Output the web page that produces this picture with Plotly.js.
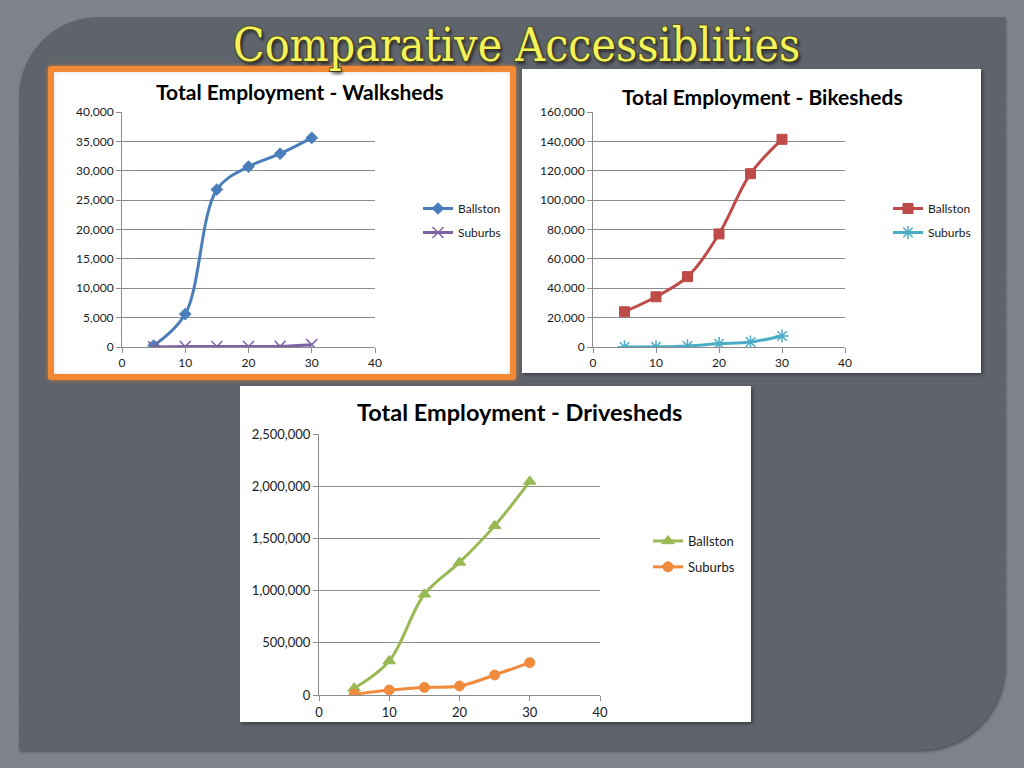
<!DOCTYPE html>
<html>
<head>
<meta charset="utf-8">
<script src="https://cdn.plot.ly/plotly-3.0.1.min.js"></script>
<style>
  html, body { margin:0; padding:0; width:1024px; height:768px; overflow:hidden; background:#7c818b; }
  #slide { position:absolute; left:0; top:0; width:1024px; height:768px;
    background-image: repeating-linear-gradient(45deg, rgba(255,255,255,0.03) 0 1px, rgba(0,0,0,0) 1px 3px); }
  #panel { position:absolute; left:19px; top:17px; width:986px; height:733px; background:#5e636c;
    border-top-left-radius:80px; border-bottom-right-radius:85px; box-shadow: 1px 2px 3px rgba(0,0,0,0.35); }
  .box { position:absolute; background:#ffffff; box-shadow: 2px 2px 3px rgba(0,0,0,0.35); }
  #frame1 { position:absolute; left:48px; top:66px; width:468px; height:314px; background:#f28a35; border-radius:3px;
    box-shadow: 0 0 4px rgba(240,130,40,0.8); }
  #plot { position:absolute; left:0; top:0; width:1024px; height:768px; }
</style>
</head>
<body>
<div id="slide"></div>
<div id="panel"></div>
<div id="frame1"></div>
<div class="box" style="left:54px; top:72px; width:456px; height:302px; box-shadow: inset 0 0 4px rgba(0,0,0,0.15);"></div>
<div class="box" style="left:522px; top:69px; width:459px; height:304px;"></div>
<div class="box" style="left:240px; top:386px; width:511px; height:336px;"></div>
<div id="plot"></div>
<script>
// ---- Data ----
const minutes = [5, 10, 15, 20, 25, 30];

const walkBallston = [230, 5600, 26800, 30700, 32900, 35600];
const walkSuburbs  = [20, 80, 90, 100, 120, 400];

const bikeBallston = [24000, 34200, 47900, 77000, 118000, 141400];
const bikeSuburbs  = [100, 150, 700, 2300, 3400, 7500];

const driveBallston = [64000, 326000, 965000, 1270000, 1620000, 2046000];
const driveSuburbs  = [6000, 48000, 73000, 86000, 192000, 310000];

const seriesNames = ["Ballston", "Suburbs"];
const chartTitles = ["Total Employment - Walksheds", "Total Employment - Bikesheds", "Total Employment - Drivesheds"];
const slideTitle = "Comparative Accessiblities";

// ---- helpers ----
const W = 1024, H = 768;
const px = x => x / W;
const py = y => 1 - y / H;
const FONT = "Lato, 'Open Sans', sans-serif";
const gridCol = "#8c8c8c";

function line(x, y, name, color, symbol, msize, xa, ya, leg, grp, mline) {
  return {
    x: x, y: y, name: name, type: "scatter", mode: "lines+markers",
    xaxis: xa, yaxis: ya, legend: leg, legendgroup: grp,
    line: { color: color, width: 3, shape: "spline", smoothing: 1 },
    marker: { color: color, symbol: symbol, size: msize, line: mline || { color: color, width: 1 } },
    hoverinfo: "skip"
  };
}

const traces = [
  line(minutes, walkBallston, seriesNames[0], "#4a7ebb", "diamond", 9, "x", "y", "legend", "w1"),
  line(minutes, walkSuburbs, seriesNames[1], "#7f62a3", "x-thin-open", 11, "x", "y", "legend", "w2", { color: "#7f62a3", width: 1.5 }),
  line(minutes, bikeBallston, seriesNames[0], "#be4b48", "square", 10, "x2", "y2", "legend2", "b1"),
  line(minutes, bikeSuburbs, seriesNames[1], "#4bacc6", "asterisk-open", 11, "x2", "y2", "legend2", "b2", { color: "#4bacc6", width: 1.5 }),
  line(minutes, driveBallston, seriesNames[0], "#98b954", "triangle-up", 11, "x3", "y3", "legend3", "d1"),
  line(minutes, driveSuburbs, seriesNames[1], "#f08a3c", "circle", 10, "x3", "y3", "legend3", "d2")
];

function xAxis(domain, anchor, fs) {
  return {
    domain: domain, anchor: anchor, range: [0, 40], dtick: 10, tick0: 0,
    showgrid: false, zeroline: false, showline: true, linecolor: gridCol, linewidth: 1,
    ticks: "outside", ticklen: 5, tickcolor: gridCol,
    tickfont: { family: FONT, size: fs, color: "#1a1a1a" }, fixedrange: true
  };
}
function yAxis(domain, anchor, max, step, fs) {
  return {
    domain: domain, anchor: anchor, range: [0, max], dtick: step, tick0: 0,
    showgrid: true, gridcolor: gridCol, gridwidth: 1, zeroline: false,
    showline: true, linecolor: gridCol, linewidth: 1,
    ticks: "outside", ticklen: 5, tickcolor: gridCol, tickformat: ",d",
    tickfont: { family: FONT, size: fs, color: "#1a1a1a" }, fixedrange: true
  };
}
function legendAt(x, y, fs, gap) {
  return {
    x: px(x), y: py(y), xanchor: "left", yanchor: "top",
    bgcolor: "rgba(0,0,0,0)", font: { family: FONT, size: fs, color: "#1a1a1a" },
    itemwidth: 30, traceorder: "grouped", tracegroupgap: gap
  };
}
function titleAnn(text, x, y, size) {
  return { text: "<b>" + text + "</b>", x: px(x), y: py(y), xref: "paper", yref: "paper",
    showarrow: false, xanchor: "center", yanchor: "middle",
    font: { family: FONT, size: size, color: "#000000" } };
}

const layout = {
  width: W, height: H, margin: { l: 0, r: 0, t: 0, b: 0 },
  paper_bgcolor: "rgba(0,0,0,0)", plot_bgcolor: "rgba(0,0,0,0)",
  showlegend: true,
  xaxis: xAxis([px(122), px(375)], "y", 12),
  yaxis: yAxis([py(347), py(112)], "x", 40000, 5000, 12),
  xaxis2: xAxis([px(593), px(845)], "y2", 12),
  yaxis2: yAxis([py(347), py(112)], "x2", 160000, 20000, 12),
  xaxis3: xAxis([px(319), px(600)], "y3", 13),
  yaxis3: yAxis([py(695), py(434)], "x3", 2500000, 500000, 13),
  legend: legendAt(418, 194, 12, 5),
  legend2: legendAt(888, 194, 12, 5),
  legend3: legendAt(648, 526, 13, 6),
  annotations: [
    { text: slideTitle, x: px(516), y: py(45), xref: "paper", yref: "paper", showarrow: false,
      xanchor: "center", yanchor: "middle",
      font: { family: "'DejaVu Serif Condensed', 'DejaVu Serif', serif", size: 46, color: "#f4f35a",
              shadow: "1px 1px 0 #3a3a20, -1px -1px 0 #5a5a30, 1px -1px 0 #4a4a28, -1px 1px 0 #4a4a28, 2px 3px 3px rgba(0,0,0,0.6)" } },
    titleAnn(chartTitles[0], 300, 92, 21),
    titleAnn(chartTitles[1], 762, 96, 21),
    titleAnn(chartTitles[2], 519, 412, 23.5)
  ],
  shapes: [
    { type: "rect", xref: "paper", yref: "paper", x0: px(332), x1: px(340), y0: py(70), y1: py(63),
      fillcolor: "#f5e66a", line: { color: "#b8a840", width: 1 } }
  ]
};

Plotly.newPlot("plot", traces, layout, { staticPlot: true, displayModeBar: false });
</script>
</body>
</html>
